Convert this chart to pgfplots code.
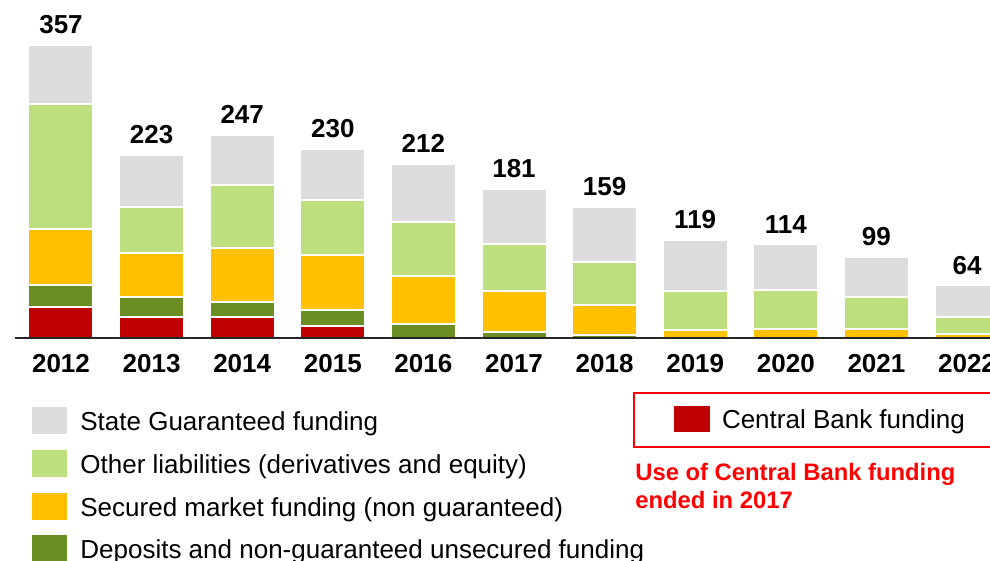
\documentclass[border=0pt]{standalone}
\usepackage{pgfplots}
\usepackage{pgfplotstable}
\pgfplotsset{compat=1.18}
\usepackage{fontspec}
\setmainfont{Liberation Sans}

\definecolor{stategray}{RGB}{220,220,220}
\definecolor{otherlime}{RGB}{190,223,126}
\definecolor{securedamber}{RGB}{255,192,0}
\definecolor{depositolive}{RGB}{107,142,35}
\definecolor{cbred}{RGB}{192,0,0}
\definecolor{notered}{RGB}{255,0,0}

\newcommand\lgfont{\fontsize{13}{15}\selectfont}
\newcommand\notefont{\bfseries\fontsize{11.9}{14}\selectfont}

% funding by year (bn), bottom to top
\pgfplotstableread{
x  cb  dep sec oth sta tot
0  38  27  68  152 72  357
1  25  25  54  55  64  223
2  25  19  65  77  61  247
3  15  19  67  67  62  230
4  0   17  58  66  71  212
5  0   7   50  57  67  181
6  0   4   36  53  66  159
7  0   0   10  47  62  119
8  0   0   11  47  56  114
9  0   0   11  39  49  99
10 0   0   5   20  39  64
}\funding

\pgfplotsset{fundingframe/.style={
    at={(7.5pt,111.5pt)}, anchor=south west,
    scale only axis,
    width=492.5pt, height=169pt,
    bar width=32.5pt,
    xmin=-0.5077, xmax=10.364,
    ymin=0, ymax=411.2,
    clip=false,
}}

\begin{document}
\begin{tikzpicture}[x=1pt,y=1pt]
\begin{axis}[
    fundingframe,
    ybar stacked,
    axis x line=bottom, axis y line=none,
    axis line style={-, black!85, line width=1.2pt},
    axis on top,
    xtick={0,1,2,3,4,5,6,7,8,9,10},
    xticklabels={2012,2013,2014,2015,2016,2017,2018,2019,2020,2021,2022},
    major tick length=0pt,
    xticklabel style={font=\bfseries\lgfont, yshift=-4.7pt},
    ytick=\empty,
    every axis plot/.append style={draw=white, line width=1pt},
]
    \addplot[fill=cbred] table[x=x, y=cb] {\funding};
    \addplot[fill=depositolive] table[x=x, y=dep] {\funding};
    \addplot[fill=securedamber] table[x=x, y=sec] {\funding};
    \addplot[fill=otherlime] table[x=x, y=oth] {\funding};
    \addplot[fill=stategray] table[x=x, y=sta] {\funding};
\end{axis}

% totals above the bars
\begin{axis}[
    fundingframe,
    ybar,
    hide axis,
]
    \addplot[draw=none, fill=none,
        nodes near coords,
        point meta=explicit symbolic,
        every node near coord/.style={anchor=south, font=\bfseries\lgfont, text=black, yshift=2pt}
    ] table[x=x, y=tot, meta=tot] {\funding};
\end{axis}

% legend, left column
\fill[stategray] (16,63.25) rectangle (33.5,76.75);
\node[anchor=base west, inner sep=0, font=\lgfont] at (40,65.35) {State Guaranteed funding};
\fill[otherlime] (16,41.75) rectangle (33.5,55.25);
\node[anchor=base west, inner sep=0, font=\lgfont] at (40,43.85) {Other liabilities (derivatives and equity)};
\fill[securedamber] (16,20.25) rectangle (33.5,33.75);
\node[anchor=base west, inner sep=0, font=\lgfont] at (40,22.35) {Secured market funding (non guaranteed)};
\fill[depositolive] (16,-0.75) rectangle (33.5,12.75);
\node[anchor=base west, inner sep=0, font=\lgfont] at (40,1.35) {Deposits and non-guaranteed unsecured funding};

% central bank box and note
\draw[notered, line width=0.6pt] (317,57) rectangle (505,84);
\fill[cbred] (337,64.5) rectangle (355,77.5);
\node[anchor=base west, inner sep=0, font=\lgfont] at (360.8,66.35) {Central Bank funding};
\node[anchor=base west, inner sep=0, font=\notefont, text=notered] at (317.5,40.3) {Use of Central Bank funding};
\node[anchor=base west, inner sep=0, font=\notefont, text=notered] at (317.5,26.3) {ended in 2017};

\pgfresetboundingbox
\path[use as bounding box] (0,0) rectangle (495,280.5);
\end{tikzpicture}
\end{document}
